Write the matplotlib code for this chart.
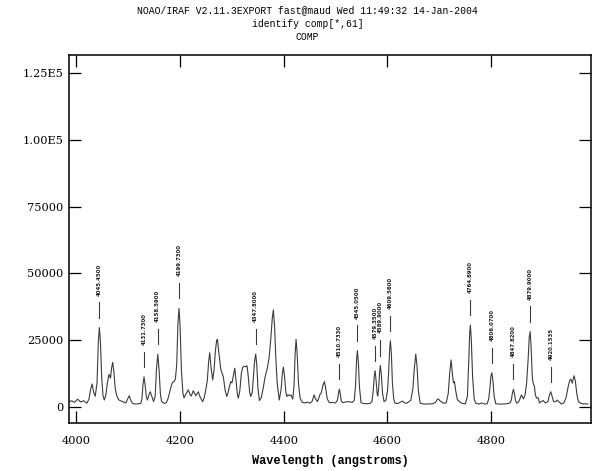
import matplotlib
matplotlib.use("Agg")
import matplotlib.pyplot as plt

# spectrum (wavelength in angstroms, counts)
wave = [3987, 3992, 3997, 4003, 4009, 4015, 4021, 4025, 4028, 4031, 4034, 4037,
        4040.5, 4043, 4045, 4047, 4049.5, 4052, 4054.5,
        4057.5, 4060, 4063.5, 4066.5, 4068.5, 4070.7, 4073, 4075.5, 4078, 4082, 4086,
        4096, 4100, 4102.7, 4105.5, 4109, 4115, 4121, 4125,
        4127, 4129, 4131, 4133, 4135.5,
        4137.5, 4140.5, 4143, 4145.5, 4149.5, 4152.5,
        4155, 4157.5, 4160, 4162.5, 4165, 4170, 4174,
        4177, 4180, 4183, 4185.5, 4189, 4191.5, 4194, 4196.3, 4198.4, 4200.5, 4203, 4206, 4208,
        4212, 4216.4, 4220, 4222, 4226, 4229, 4231.2, 4235.6, 4239.5, 4244, 4247, 4250,
        4253, 4255.5, 4257.6, 4260, 4263.3, 4266, 4268.5, 4271, 4272.5, 4275, 4279, 4283.8,
        4287, 4290.4, 4293, 4296, 4298.1, 4300.5, 4303.5, 4305.8, 4308.5, 4311, 4312.7,
        4315.5, 4318.5, 4321, 4324, 4327, 4329.5, 4332, 4334.5, 4336.6, 4339.5, 4342,
        4344.2, 4346.2, 4348.3, 4350.5, 4353.2,
        4357, 4361, 4364, 4366, 4369, 4372, 4375, 4378, 4380.2, 4382.5, 4385, 4387.5, 4391.5,
        4395, 4397.5, 4399.4, 4401.5, 4404, 4406, 4408.5, 4411, 4414, 4417.5,
        4420, 4422, 4423.9, 4426, 4428.5, 4431.6, 4436, 4441, 4446, 4451, 4455,
        4458.6, 4461.5, 4465, 4468, 4470, 4472.5, 4475.5, 4478.4, 4481, 4484, 4488, 4494, 4500,
        4503.5, 4505.5, 4507.3, 4509, 4511, 4514, 4520, 4526, 4532, 4536,
        4538.5, 4540.3, 4542, 4544, 4546, 4549, 4554, 4560, 4566, 4570,
        4572.5, 4574.5, 4576.1, 4578, 4580, 4581.3, 4583, 4584.8, 4586.3, 4588.2, 4590.5,
        4593.4, 4597, 4600,
        4602, 4604, 4605.6, 4607.5, 4609.5, 4612, 4614.6, 4620, 4625, 4629, 4633, 4637,
        4645, 4649, 4651.5, 4654.5, 4657, 4659.5, 4663,
        4670, 4678, 4686, 4692, 4696, 4698, 4701, 4707.7, 4713, 4717, 4720, 4722.5, 4725,
        4727, 4729, 4731.5, 4734.5, 4738.6, 4744, 4750,
        4754, 4756.5, 4758.3, 4759.7, 4761.5, 4764, 4767, 4770, 4776, 4782, 4787, 4792,
        4795, 4797.5, 4799.3, 4801, 4803, 4805.5, 4808.5, 4815, 4822, 4830, 4836,
        4838.5, 4840.5, 4842.6, 4844.5, 4846.5, 4849, 4853, 4858, 4862, 4865,
        4868, 4871, 4873, 4874.8, 4876.5, 4879, 4881, 4883, 4885, 4887, 4890, 4893, 4896,
        4900, 4904, 4909, 4912, 4914.6, 4917, 4920, 4924, 4927, 4931, 4935, 4940,
        4944, 4948, 4951, 4953.2, 4955.7, 4959.5, 4962, 4965, 4967.8, 4972, 4977, 4982, 4986]
flux = [2000, 2300, 1700, 2900, 1900, 2300, 1400, 3000, 6500, 8600, 5500, 4000,
        9000, 24500, 29700, 24500, 11000, 4200, 2600,
        4500, 8500, 12200, 10800, 14500, 16700, 13000, 7000, 4500, 2700, 2300,
        1500, 3200, 4200, 2500, 1300, 1100, 1200, 1400,
        3000, 8500, 11300, 8500, 3800,
        2600, 4500, 5700, 4300, 2000, 4000,
        14000, 19700, 14000, 5000, 2000, 1300, 1600,
        3000, 5300, 7500, 9100, 9500, 10500, 16000, 31000, 36900, 30000, 14000, 5000, 3400,
        5000, 6400, 4500, 4100, 6100, 4800, 4200, 5700, 3500, 2000, 3500, 6400,
        10000, 17000, 20300, 15000, 10100, 14000, 21000, 25000, 25300, 20500, 14000, 11300,
        6500, 3900, 5500, 8000, 9500, 9000, 12000, 14500, 9500, 4500, 3300,
        6000, 12500, 14800, 15300, 15000, 15400, 11000, 5500, 3900, 5500, 12000,
        17500, 19800, 15500, 7000, 2400,
        3500, 7500, 11000, 12600, 15000, 18500, 25000, 33000, 36300, 30000, 18000, 9000, 2600,
        6500, 12500, 14900, 12000, 6000, 3900, 4600, 4200, 4500, 2900,
        8000, 19500, 25300, 20000, 9000, 3300, 1700, 1500, 1800, 1400, 2200,
        4500, 3000, 2000, 3500, 4700, 5300, 8000, 9500, 7000, 3000, 1600, 1700, 1500,
        2500, 5000, 6700, 5000, 2200, 1600, 1900, 2000, 1700, 2500,
        8000, 17000, 21100, 16500, 7500, 1600, 1300, 1200, 1300, 2000,
        6000, 11500, 13600, 10000, 5000, 4100, 7000, 13000, 15500, 12000, 5000,
        2000, 2500, 6000,
        12000, 21000, 24800, 20000, 9000, 3000, 1400, 1300, 1800, 2200, 1500, 1400,
        2500, 7000, 14000, 19800, 15000, 6000, 1400,
        1100, 1100, 1200, 1600, 2800, 3000, 2300, 1400, 1500, 5000, 13000, 17600, 12500,
        9000, 9500, 6000, 2800, 2000, 1300, 1200,
        4000, 17000, 27500, 30700, 25000, 11000, 3000, 1400, 1100, 1500, 1100, 1200,
        3000, 7500, 11500, 12800, 10000, 4000, 1200, 1100, 1100, 1200, 1500,
        2500, 5000, 6600, 5000, 2500, 1400, 2000, 4500, 3000, 4500,
        9000, 18000, 26000, 28200, 23000, 11000, 8500, 7900, 4500, 3300, 3500, 1500, 2000,
        2400, 1500, 2000, 4500, 5700, 4000, 2000, 2000, 2600, 1800, 1100, 1600,
        3500, 7500, 10000, 10400, 8900, 11700, 9500, 4500, 2000, 1400, 1100, 1200, 1100]

# identified lines: label, measured position, peak counts
line_labels = ["4045.4500", "4131.7300", "4158.5900", "4199.7300", "4347.8000",
               "4510.7330", "4545.0500", "4579.3500", "4589.9000", "4609.5600",
               "4764.8900", "4806.0700", "4847.8200", "4879.9000", "4920.1535"]
line_wave = [4045, 4131, 4157.4, 4198.4, 4346.2, 4507.3, 4542, 4576.1, 4586.3,
             4605.6, 4759.7, 4801, 4842.6, 4874.8, 4914.6]
line_peak = [29700, 11300, 19700, 36900, 19800, 6700, 21100, 13600, 15500,
             24800, 30700, 12800, 6600, 28200, 5700]

xticks = [4000, 4200, 4400, 4600, 4800]
yticks = [0, 25000, 50000, 75000, 100000, 125000]
ytick_labels = ["0", "25000", "50000", "75000", "1.00E5", "1.25E5"]

fig = plt.figure(figsize=(6.15, 4.71), dpi=100)
ax = fig.add_axes([0.1122, 0.1019, 0.849, 0.7813])

ax.plot(wave, flux, color="#3c3c3c", lw=0.8)

for lab, w, p in zip(line_labels, line_wave, line_peak):
    ax.plot([w, w], [p + 3700, p + 9400], color="#3c3c3c", lw=0.8)
    ax.text(w, p + 12000, lab, rotation=90, ha="center", va="bottom",
            fontsize=3.9, family="DejaVu Sans", fontweight="bold",
            color="#222222")

ax.set_xlim(3986.5, 4992.3)
ax.set_ylim(-6000, 131700)
ax.set_xticks(xticks)
ax.set_yticks(yticks, ytick_labels)
ax.tick_params(direction="in", length=8.5, width=0.9, top=True, right=True,
               labelsize=8.2, colors="black")
ax.tick_params(axis="x", pad=9)
ax.tick_params(axis="y", pad=4)
for t in ax.get_xticklabels() + ax.get_yticklabels():
    t.set_family("DejaVu Serif")
for s in ax.spines.values():
    s.set_linewidth(1.1)

ax.set_xlabel("Wavelength (angstroms)", family="Liberation Mono", fontsize=8.6,
              fontweight="bold", va="center")
ax.xaxis.set_label_coords(0.5, -0.103)

fig.text(0.5, 0.978, "NOAO/IRAF V2.11.3EXPORT fast@maud Wed 11:49:32 14-Jan-2004",
         ha="center", va="center", family="Liberation Mono", fontsize=7.0)
fig.text(0.5, 0.949, "identify comp[*,61]", ha="center", va="center",
         family="Liberation Mono", fontsize=7.0)
fig.text(0.5, 0.921, "COMP", ha="center", va="center",
         family="Liberation Mono", fontsize=7.0)

fig.savefig("out.png", dpi=100)
